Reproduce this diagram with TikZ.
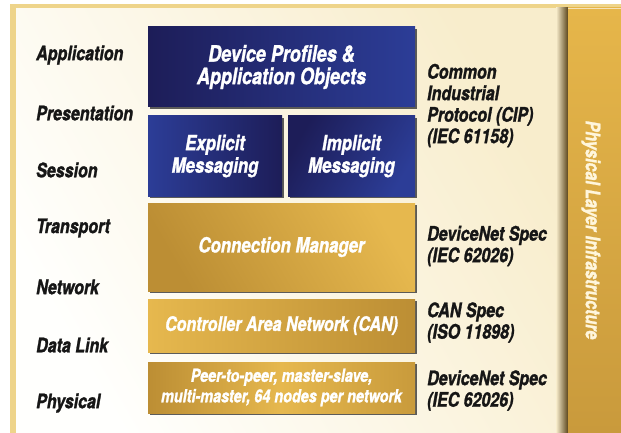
\documentclass[tikz,border=0pt]{standalone}
\usepackage{fontspec}
\setmainfont{TeX Gyre Heros}[FakeStretch=0.8, FakeBold=1.3]
\usetikzlibrary{shadows}
\definecolor{frameGold}{HTML}{EED48A}
\definecolor{panelA}{HTML}{FFFFFD}
\definecolor{panelB}{HTML}{F8EDCC}
\definecolor{barTop}{HTML}{E6B64A}
\definecolor{barBot}{HTML}{C99A3C}
\definecolor{navyD}{HTML}{1D1D58}
\definecolor{navyL}{HTML}{2C3D97}
\definecolor{goldD}{HTML}{BC8E34}
\definecolor{goldL}{HTML}{E6B84E}
\definecolor{labelInk}{HTML}{161616}
\definecolor{barText}{HTML}{FFF6DC}
\tikzset{
  lbl/.style={anchor=west, inner sep=0pt, text=labelInk, font=\fontsize{20}{21.5}\selectfont\bfseries\itshape, align=left},
  boxtxt/.style={text=white, font=\fontsize{21}{22.5}\selectfont\bfseries\itshape, align=center, inner sep=0pt},
  layerbox/.style={boxtxt, drop shadow={shadow xshift=1.6pt, shadow yshift=-1.8pt, fill=black!75, opacity=0.85}},
}
\begin{document}
\begin{tikzpicture}[x=1pt,y=-1pt]
\useasboundingbox (0,0) rectangle (621,433);
\fill[white] (0,0) rectangle (621,433);
% outer frame
\fill[frameGold] (10,4) rectangle (621,433);
% inner panel
\shade[left color=panelA, right color=panelB, shading angle=120] (16,9) rectangle (560,433);
% shadow strip left of bar
\shade[left color=panelB, right color=black!55!barBot] (556,8) rectangle (568,433);
% right bar
\shade[top color=barTop, bottom color=barBot] (568,8) rectangle (621,433);
\fill[white!60!barTop] (568,8) rectangle (621,9.5);
\node[rotate=-90, text=barText, font=\fontsize{20}{20}\selectfont\bfseries\itshape, inner sep=0pt] (infra) at (591,230) {Physical Layer Infrastructure};

% layer boxes
\node[layerbox, minimum width=267pt, minimum height=80pt, left color=navyD, right color=navyL, font=\fontsize{22.5}{22.5}\selectfont\bfseries\itshape] (dp) at (281.5,67) {Device Profiles \&\\Application Objects};
\node[layerbox, minimum width=134pt, minimum height=80pt, left color=navyL, right color=navyD] (exp) at (215,156) {Explicit\\Messaging};
\node[layerbox, minimum width=127pt, minimum height=80pt, left color=navyD, right color=navyL, shading angle=60] (imp) at (351.5,156) {Implicit\\Messaging};
\node[layerbox, minimum width=267pt, minimum height=88pt, left color=goldD, right color=goldL, shading angle=120] (cm) at (281.5,247) {Connection Manager};
\node[layerbox, minimum width=267pt, minimum height=53pt, left color=goldL, right color=goldD, font=\fontsize{20}{22}\selectfont\bfseries\itshape] (can) at (281.5,325.5) {Controller Area Network (CAN)};
\node[layerbox, minimum width=267pt, minimum height=51pt, left color=goldD, right color=goldD!70!goldL, middle color=goldL, font=\fontsize{18}{20.5}\selectfont\bfseries\itshape] (phy) at (281.5,387.5) {Peer-to-peer, master-slave,\\multi-master, 64 nodes per network};

% OSI layer labels
\node[lbl] (l1) at (36,55) {Application};
\node[lbl] (l2) at (36,113) {Presentation};
\node[lbl] (l3) at (36,170) {Session};
\node[lbl] (l4) at (36,228) {Transport};
\node[lbl] (l5) at (36,287) {Network};
\node[lbl] (l6) at (36,345) {Data Link};
\node[lbl] (l7) at (36,403) {Physical};

% spec labels
\node[lbl] (s1) at (427,105.5) {Common\\Industrial\\Protocol (CIP)\\(IEC 61158)};
\node[lbl] (s2) at (427,246) {DeviceNet Spec\\(IEC 62026)};
\node[lbl] (s3) at (427,322.5) {CAN Spec\\(ISO 11898)};
\node[lbl] (s4) at (427,390.5) {DeviceNet Spec\\(IEC 62026)};
\end{tikzpicture}
\end{document}
